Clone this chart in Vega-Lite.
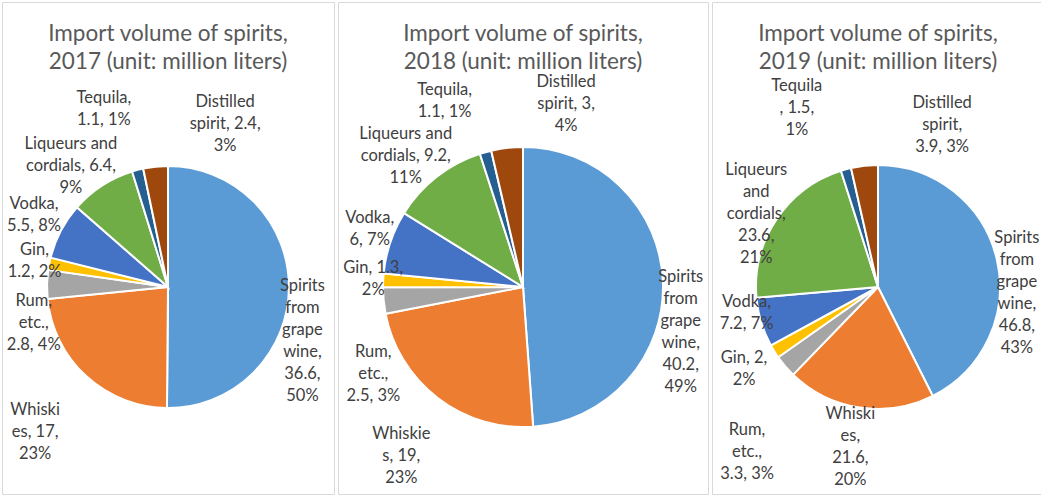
{
  "$schema": "https://vega.github.io/schema/vega-lite/v6.json",
  "padding": {"left": 1, "top": 1, "right": 0, "bottom": 0},
  "spacing": 2,
  "background": "white",
  "config": {
    "view": {"stroke": "#d9d9d9", "strokeWidth": 1},
    "title": {"font": "Lato", "fontSize": 22.5, "fontWeight": "normal", "color": "#595959", "lineHeight": 28, "anchor": "middle", "offset": -71},
    "arc": {"y": {"expr": "height/2 + 39"}, "stroke": "white", "strokeWidth": 2},
    "text": {"y": {"expr": "height/2 + 39"}, "font": "Lato", "fontSize": 16.5, "lineHeight": 22, "color": "#404040", "align": "center", "baseline": "middle"}
  },
  "resolve": {"scale": {"theta": "independent"}},
  "data": {
    "values": [
      {"year": 2017, "spirit": "Spirits from grape wine", "volume": 36.6, "label": ["Spirits", "from", "grape", "wine,", "36.6,", "50%"]},
      {"year": 2017, "spirit": "Whiskies", "volume": 17, "label": ["Whiski", "es, 17,", "23%"]},
      {"year": 2017, "spirit": "Rum, etc.", "volume": 2.8, "label": ["Rum,", "etc.,", "2.8, 4%"]},
      {"year": 2017, "spirit": "Gin", "volume": 1.2, "label": ["Gin,", "1.2, 2%"]},
      {"year": 2017, "spirit": "Vodka", "volume": 5.5, "label": ["Vodka,", "5.5, 8%"]},
      {"year": 2017, "spirit": "Liqueurs and cordials", "volume": 6.4, "label": ["Liqueurs and", "cordials, 6.4,", "9%"]},
      {"year": 2017, "spirit": "Tequila", "volume": 1.1, "label": ["Tequila,", "1.1, 1%"]},
      {"year": 2017, "spirit": "Distilled spirit", "volume": 2.4, "label": ["Distilled", "spirit, 2.4,", "3%"]},
      {"year": 2018, "spirit": "Spirits from grape wine", "volume": 40.2, "label": ["Spirits", "from", "grape", "wine,", "40.2,", "49%"]},
      {"year": 2018, "spirit": "Whiskies", "volume": 19, "label": ["Whiskie", "s, 19,", "23%"]},
      {"year": 2018, "spirit": "Rum, etc.", "volume": 2.5, "label": ["Rum,", "etc.,", "2.5, 3%"]},
      {"year": 2018, "spirit": "Gin", "volume": 1.3, "label": ["Gin, 1.3,", "2%"]},
      {"year": 2018, "spirit": "Vodka", "volume": 6, "label": ["Vodka,", "6, 7%"]},
      {"year": 2018, "spirit": "Liqueurs and cordials", "volume": 9.2, "label": ["Liqueurs and", "cordials, 9.2,", "11%"]},
      {"year": 2018, "spirit": "Tequila", "volume": 1.1, "label": ["Tequila,", "1.1, 1%"]},
      {"year": 2018, "spirit": "Distilled spirit", "volume": 3, "label": ["Distilled", "spirit, 3,", "4%"]},
      {"year": 2019, "spirit": "Spirits from grape wine", "volume": 46.8, "label": ["Spirits", "from", "grape", "wine,", "46.8,", "43%"]},
      {"year": 2019, "spirit": "Whiskies", "volume": 21.6, "label": ["Whiski", "es,", "21.6,", "20%"]},
      {"year": 2019, "spirit": "Rum, etc.", "volume": 3.3, "label": ["Rum,", "etc.,", "3.3, 3%"]},
      {"year": 2019, "spirit": "Gin", "volume": 2, "label": ["Gin, 2,", "2%"]},
      {"year": 2019, "spirit": "Vodka", "volume": 7.2, "label": ["Vodka,", "7.2, 7%"]},
      {"year": 2019, "spirit": "Liqueurs and cordials", "volume": 23.6, "label": ["Liqueurs", "and", "cordials,", "23.6,", "21%"]},
      {"year": 2019, "spirit": "Tequila", "volume": 1.5, "label": ["Tequila", ", 1.5,", "1%"]},
      {"year": 2019, "spirit": "Distilled spirit", "volume": 3.9, "label": ["Distilled", "spirit,", "3.9, 3%"]}
    ]
  },
  "hconcat": [
    {
      "width": 332, "height": 492,
      "view": {"stroke": "#d9d9d9"},
      "title": {"text": ["Import volume of spirits,", "2017 (unit: million liters)"]},
      "transform": [{"filter": "datum.year === 2017"}, {"window": [{"op": "row_number", "as": "k"}]}],
      "encoding": {
        "theta": {"field": "volume", "type": "quantitative", "stack": true},
        "order": {"field": "k", "type": "quantitative"}
      },
      "layer": [
        {
          "mark": {"type": "arc", "outerRadius": 121},
          "encoding": {"color": {"field": "spirit", "type": "nominal", "legend": null,
            "scale": {"domain": ["Spirits from grape wine", "Whiskies", "Rum, etc.", "Gin", "Vodka", "Liqueurs and cordials", "Tequila", "Distilled spirit"],
                      "range": ["#5B9BD5", "#ED7D31", "#A5A5A5", "#FFC000", "#4472C4", "#70AD47", "#255E91", "#9E480E"]}}}
        },
        {"mark": {"type": "text", "clip": true, "radius": 145, "thetaOffset": 0.38, "dy": -55}, "encoding": {"text": {"condition": {"test": "datum.spirit === 'Spirits from grape wine'", "field": "label"}, "value": ""}}},
        {"mark": {"type": "text", "clip": true, "radius": 197, "thetaOffset": 0, "dy": -22}, "encoding": {"text": {"condition": {"test": "datum.spirit === 'Whiskies'", "field": "label"}, "value": ""}}},
        {"mark": {"type": "text", "clip": true, "radius": 139, "thetaOffset": -0.283, "dy": -22}, "encoding": {"text": {"condition": {"test": "datum.spirit === 'Rum, etc.'", "field": "label"}, "value": ""}}},
        {"mark": {"type": "text", "clip": true, "radius": 136, "thetaOffset": 0, "dy": -11}, "encoding": {"text": {"condition": {"test": "datum.spirit === 'Gin'", "field": "label"}, "value": ""}}},
        {"mark": {"type": "text", "clip": true, "radius": 152, "thetaOffset": 0.01, "dy": -11}, "encoding": {"text": {"condition": {"test": "datum.spirit === 'Vodka'", "field": "label"}, "value": ""}}},
        {"mark": {"type": "text", "clip": true, "radius": 155, "thetaOffset": -0.1, "dy": -22}, "encoding": {"text": {"condition": {"test": "datum.spirit === 'Liqueurs and cordials'", "field": "label"}, "value": ""}}},
        {"mark": {"type": "text", "clip": true, "radius": 189, "thetaOffset": -0.092, "dy": -11}, "encoding": {"text": {"condition": {"test": "datum.spirit === 'Tequila'", "field": "label"}, "value": ""}}},
        {"mark": {"type": "text", "clip": true, "radius": 173, "thetaOffset": 0.44, "dy": -22}, "encoding": {"text": {"condition": {"test": "datum.spirit === 'Distilled spirit'", "field": "label"}, "value": ""}}}
      ]
    },
    {
      "width": 370, "height": 492,
      "view": {"stroke": "#d9d9d9"},
      "title": {"text": ["Import volume of spirits,", "2018 (unit: million liters)"]},
      "transform": [{"filter": "datum.year === 2018"}, {"window": [{"op": "row_number", "as": "k"}]}],
      "encoding": {
        "theta": {"field": "volume", "type": "quantitative", "stack": true},
        "order": {"field": "k", "type": "quantitative"}
      },
      "layer": [
        {
          "mark": {"type": "arc", "outerRadius": 140},
          "encoding": {"color": {"field": "spirit", "type": "nominal", "legend": null}}
        },
        {"mark": {"type": "text", "clip": true, "radius": 164, "thetaOffset": 0.314, "dy": -55}, "encoding": {"text": {"condition": {"test": "datum.spirit === 'Spirits from grape wine'", "field": "label"}, "value": ""}}},
        {"mark": {"type": "text", "clip": true, "radius": 208, "thetaOffset": -0.028, "dy": -22}, "encoding": {"text": {"condition": {"test": "datum.spirit === 'Whiskies'", "field": "label"}, "value": ""}}},
        {"mark": {"type": "text", "clip": true, "radius": 173, "thetaOffset": -0.428, "dy": -22}, "encoding": {"text": {"condition": {"test": "datum.spirit === 'Rum, etc.'", "field": "label"}, "value": ""}}},
        {"mark": {"type": "text", "clip": true, "radius": 150, "thetaOffset": 0.005, "dy": -11}, "encoding": {"text": {"condition": {"test": "datum.spirit === 'Gin'", "field": "label"}, "value": ""}}},
        {"mark": {"type": "text", "clip": true, "radius": 164, "thetaOffset": 0.037, "dy": -11}, "encoding": {"text": {"condition": {"test": "datum.spirit === 'Vodka'", "field": "label"}, "value": ""}}},
        {"mark": {"type": "text", "clip": true, "radius": 176, "thetaOffset": -0.065, "dy": -22}, "encoding": {"text": {"condition": {"test": "datum.spirit === 'Liqueurs and cordials'", "field": "label"}, "value": ""}}},
        {"mark": {"type": "text", "clip": true, "radius": 202, "thetaOffset": -0.127, "dy": -11}, "encoding": {"text": {"condition": {"test": "datum.spirit === 'Tequila'", "field": "label"}, "value": ""}}},
        {"mark": {"type": "text", "clip": true, "radius": 188, "thetaOffset": 0.346, "dy": -22}, "encoding": {"text": {"condition": {"test": "datum.spirit === 'Distilled spirit'", "field": "label"}, "value": ""}}}
      ]
    },
    {
      "width": 332, "height": 492,
      "view": {"stroke": "#d9d9d9"},
      "title": {"text": ["Import volume of spirits,", "2019 (unit: million liters)"]},
      "transform": [{"filter": "datum.year === 2019"}, {"window": [{"op": "row_number", "as": "k"}]}],
      "encoding": {
        "theta": {"field": "volume", "type": "quantitative", "stack": true},
        "order": {"field": "k", "type": "quantitative"}
      },
      "layer": [
        {
          "mark": {"type": "arc", "outerRadius": 122},
          "encoding": {"color": {"field": "spirit", "type": "nominal", "legend": null}}
        },
        {"mark": {"type": "text", "clip": true, "radius": 139, "thetaOffset": 0.277, "dy": -55}, "encoding": {"text": {"condition": {"test": "datum.spirit === 'Spirits from grape wine'", "field": "label"}, "value": ""}}},
        {"mark": {"type": "text", "clip": true, "radius": 162, "thetaOffset": 0.02, "dy": -33}, "encoding": {"text": {"condition": {"test": "datum.spirit === 'Whiskies'", "field": "label"}, "value": ""}}},
        {"mark": {"type": "text", "clip": true, "radius": 211, "thetaOffset": -0.194, "dy": -22}, "encoding": {"text": {"condition": {"test": "datum.spirit === 'Rum, etc.'", "field": "label"}, "value": ""}}},
        {"mark": {"type": "text", "clip": true, "radius": 157, "thetaOffset": 0.007, "dy": -11}, "encoding": {"text": {"condition": {"test": "datum.spirit === 'Gin'", "field": "label"}, "value": ""}}},
        {"mark": {"type": "text", "clip": true, "radius": 134, "thetaOffset": 0.098, "dy": -11}, "encoding": {"text": {"condition": {"test": "datum.spirit === 'Vodka'", "field": "label"}, "value": ""}}},
        {"mark": {"type": "text", "clip": true, "radius": 142, "thetaOffset": -0.047, "dy": -44}, "encoding": {"text": {"condition": {"test": "datum.spirit === 'Liqueurs and cordials'", "field": "label"}, "value": ""}}},
        {"mark": {"type": "text", "clip": true, "radius": 197, "thetaOffset": -0.159, "dy": -22}, "encoding": {"text": {"condition": {"test": "datum.spirit === 'Tequila'", "field": "label"}, "value": ""}}},
        {"mark": {"type": "text", "clip": true, "radius": 174, "thetaOffset": 0.489, "dy": -22}, "encoding": {"text": {"condition": {"test": "datum.spirit === 'Distilled spirit'", "field": "label"}, "value": ""}}}
      ]
    }
  ]
}
